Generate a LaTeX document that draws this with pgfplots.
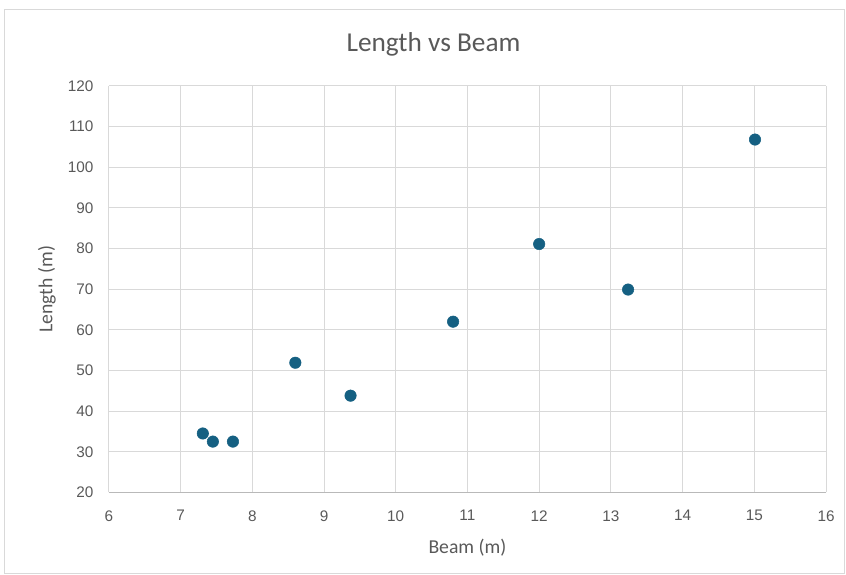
\documentclass[border=0pt]{standalone}
\usepackage{pgfplots}
\pgfplotsset{compat=1.18}
\usepackage{fontspec}
\setmainfont{Carlito}
\newfontfamily\tickfont{Liberation Sans}
\definecolor{txt}{HTML}{595959}
\definecolor{grd}{HTML}{D9D9D9}
\definecolor{mk}{HTML}{156082}
\begin{document}
\begin{tikzpicture}
\path[use as bounding box] (-81.75pt,-61.5pt) rectangle (553.5pt,369.75pt);
\draw[color=grd, line width=0.75pt] (-78pt,-61.1pt) rectangle (552.4pt,362.25pt);
\begin{axis}[
  at={(0,0)}, anchor=south west,
  scale only axis, width=538.5pt, height=305.25pt,
  xmin=6, xmax=16, ymin=20, ymax=120,
  xtick={6,7,...,16}, ytick={20,30,...,120},
  grid=major, major grid style={color=grd, line width=0.75pt},
  axis line style={draw=none},
  tick style={draw=none},
  ticklabel style={font=\tickfont\fontsize{11.5}{13}\selectfont, text=txt},
  /pgf/number format/assume math mode=true,
  xticklabel style={yshift=-10pt},
  yticklabel style={xshift=-8pt},
  clip=false,
]
\draw[color=gray!55, line width=0.75pt] (rel axis cs:0,0) -- (rel axis cs:1,0);
\addplot[only marks, mark=*, mark size=4.3pt, mark options={fill=mk, draw=mk}] coordinates {
(7.31,34.5) (7.45,32.5) (7.73,32.5) (8.60,51.9) (9.37,43.8)
(10.80,62.0) (12.0,81.1) (13.24,69.9) (15.01,106.8)
};
\end{axis}
\node[text=txt, font=\fontsize{20.5}{24}\selectfont] at (243.75pt,336.75pt) {Length vs Beam};
\node[text=txt, font=\fontsize{14.8}{17}\selectfont] at (269.25pt,-41.25pt) {Beam (m)};
\node[text=txt, font=\fontsize{14.8}{17}\selectfont, rotate=90] at (-46.5pt,152.6pt) {Length (m)};
\end{tikzpicture}
\end{document}
